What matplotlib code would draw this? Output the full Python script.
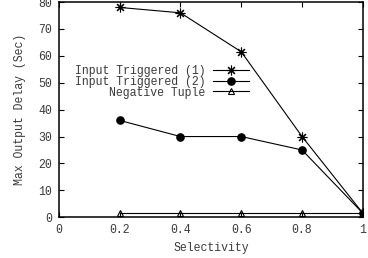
import matplotlib
matplotlib.use('Agg')
import matplotlib.pyplot as plt

# data
selectivity = [0.2, 0.4, 0.6, 0.8, 1.0]
input_trig_1 = [78, 76, 61.5, 30, 1.5]
input_trig_2 = [36, 30, 30, 25, 1.5]
negative_tuple = [1.5, 1.5, 1.5, 1.5, 1.5]

xticks = [0, 0.2, 0.4, 0.6, 0.8, 1]
yticks = [0, 10, 20, 30, 40, 50, 60, 70, 80]

plt.rcParams['font.family'] = ['Liberation Mono', 'DejaVu Sans Mono']
plt.rcParams['font.size'] = 8.3
txt = '#3a3a3a'

fig = plt.figure(figsize=(3.68, 2.58), dpi=100)
ax = fig.add_axes([0.160, 0.158, 0.826, 0.834])

ax.plot(selectivity, input_trig_1, color='black', lw=0.8, marker=(8, 2, 0),
        markersize=7, mew=0.8, label='Input Triggered (1)')
ax.plot(selectivity, input_trig_2, color='black', lw=0.8, marker='o',
        markersize=5.2, label='Input Triggered (2)')
ax.plot(selectivity, negative_tuple, color='black', lw=0.8, marker='^',
        markersize=5, fillstyle='none', mew=0.8, label='Negative Tuple')

ax.set_xlim(0, 1)
ax.set_ylim(0, 80)
ax.set_xticks(xticks)
ax.set_xticklabels(['%g' % v for v in xticks])
ax.set_yticks(yticks)
ax.tick_params(direction='in', top=True, right=True, length=3.5, width=0.8,
               labelcolor=txt, pad=5)
for s in ax.spines.values():
    s.set_linewidth(1.1)

ax.set_xlabel('Selectivity', color=txt, labelpad=4)
ax.set_ylabel('Max Output Delay (Sec)', color=txt, labelpad=9)

leg = ax.legend(loc='upper left', bbox_to_anchor=(0.033, 0.733), frameon=False,
                markerfirst=False, handlelength=3.1, handletextpad=0.7,
                labelspacing=-0.12, borderpad=0)
for t in leg.get_texts():
    t.set_color(txt)

fig.savefig('out.png', dpi=100)
